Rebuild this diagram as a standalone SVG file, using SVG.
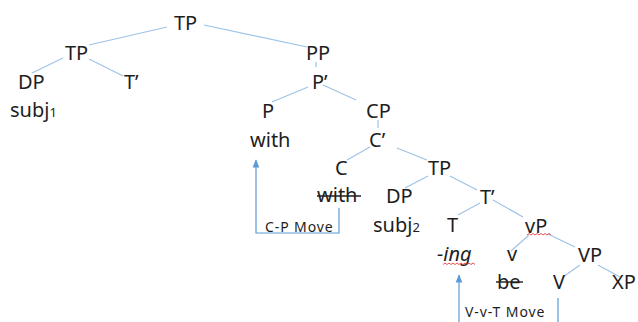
<svg xmlns="http://www.w3.org/2000/svg" width="638" height="322" viewBox="0 0 638 322">
  <defs>
    <style>
      .lbl { font-family: "Noto Sans", "Open Sans", sans-serif; font-size: 20px; fill: #1e1e1e; }
      .sub { font-size: 13px; }
      .mv { font-family: "Noto Sans", "Open Sans", sans-serif; font-size: 14px; fill: #1e1e1e; letter-spacing: 0.9px; }
      .edge { stroke: #9dc3e6; stroke-width: 1.2; fill: none; }
      .move { stroke: #5b9bd5; stroke-width: 1.2; fill: none; }
      .strike { stroke: #1e1e1e; stroke-width: 1.4; }
      .squig { stroke: #e04040; stroke-width: 0.9; fill: none; }
    </style>
    <marker id="arr" viewBox="0 0 10 10" refX="9" refY="5" markerWidth="7" markerHeight="7" orient="auto-start-reverse">
      <path d="M0,1 L10,5 L0,9 z" fill="#5b9bd5"/>
    </marker>
  </defs>

  <rect width="638" height="322" fill="#fff"/>

  <!-- tree branches -->
  <g id="connectors">
    <line class="edge" x1="167" y1="27" x2="89" y2="45"/>
    <line class="edge" x1="204" y1="25" x2="307" y2="47"/>
    <line class="edge" x1="63" y1="58" x2="32" y2="73"/>
    <line class="edge" x1="89" y1="59" x2="123" y2="76"/>
    <line class="edge" x1="316" y1="62" x2="316" y2="67"/>
    <line class="edge" x1="308" y1="87" x2="272" y2="102"/>
    <line class="edge" x1="323" y1="85" x2="356" y2="100"/>
    <line class="edge" x1="378" y1="120" x2="378" y2="128"/>
    <line class="edge" x1="370" y1="147" x2="347" y2="160"/>
    <line class="edge" x1="397" y1="148" x2="427" y2="160"/>
    <line class="edge" x1="428" y1="176" x2="405" y2="188"/>
    <line class="edge" x1="450" y1="176" x2="477" y2="190"/>
    <line class="edge" x1="480" y1="203" x2="458" y2="215"/>
    <line class="edge" x1="493" y1="200" x2="523" y2="217"/>
    <line class="edge" x1="529" y1="235" x2="511" y2="251"/>
    <line class="edge" x1="548" y1="234" x2="575" y2="247"/>
    <line class="edge" x1="580" y1="265" x2="563" y2="277"/>
    <line class="edge" x1="598" y1="265" x2="620" y2="277"/>
    <!-- movement paths -->
    <path class="move" d="M339,208 V233 H256 V160" marker-end="url(#arr)"/>
    <path class="move" d="M459,322 V275" marker-end="url(#arr)"/>
    <line class="move" x1="558" y1="298" x2="558" y2="322"/>
  </g>

  <g id="n-tp-root"><text class="lbl" x="174" y="30">TP</text></g>
  <g id="n-tp-left"><text class="lbl" x="65" y="60">TP</text></g>
  <g id="n-dp1"><text class="lbl" x="18" y="89">DP</text></g>
  <g id="n-tbar1"><text class="lbl" x="124" y="89">T’</text></g>
  <g id="n-subj1"><text class="lbl" x="10" y="117">subj<tspan class="sub">1</tspan></text></g>
  <g id="n-pp"><text class="lbl" x="306" y="60">PP</text></g>
  <g id="n-pbar"><text class="lbl" x="312" y="89">P’</text></g>
  <g id="n-p"><text class="lbl" x="262" y="118">P</text></g>
  <g id="n-with"><text class="lbl" x="250" y="147">with</text></g>
  <g id="n-cp"><text class="lbl" x="366" y="118">CP</text></g>
  <g id="n-cbar"><text class="lbl" x="369" y="147">C’</text></g>
  <g id="n-c"><text class="lbl" x="335" y="175">C</text></g>
  <g id="n-with-copy">
    <text class="lbl" x="317" y="202">with</text>
    <line class="strike" x1="317" y1="196" x2="361" y2="196"/>
  </g>
  <g id="n-tp-low"><text class="lbl" x="428" y="175">TP</text></g>
  <g id="n-dp2"><text class="lbl" x="386" y="203">DP</text></g>
  <g id="n-subj2"><text class="lbl" x="373" y="232">subj<tspan class="sub">2</tspan></text></g>
  <g id="n-tbar2"><text class="lbl" x="480" y="204">T’</text></g>
  <g id="n-t"><text class="lbl" x="447" y="232">T</text></g>
  <g id="n-ing">
    <text class="lbl" x="437" y="261" font-style="italic">-ing</text>
    <path class="squig" d="M443,264.5 l2,-1.5 l2,1.5 l2,-1.5 l2,1.5 l2,-1.5 l2,1.5 l2,-1.5 l2,1.5 l2,-1.5 l2,1.5 l2,-1.5 l2,1.5 l2,-1.5 l2,1.5 l2,-1.5 l2,1.5"/>
  </g>
  <g id="n-vp-small">
    <text class="lbl" x="525" y="233">vP</text>
    <path class="squig" d="M527,235 l2,-1.5 l2,1.5 l2,-1.5 l2,1.5 l2,-1.5 l2,1.5 l2,-1.5 l2,1.5 l2,-1.5 l2,1.5 l2,-1.5 l2,1.5"/>
  </g>
  <g id="n-v-small"><text class="lbl" x="507" y="261">v</text></g>
  <g id="n-vp"><text class="lbl" x="578" y="262">VP</text></g>
  <g id="n-be">
    <text class="lbl" x="497" y="289">be</text>
    <line class="strike" x1="496" y1="282" x2="523" y2="282"/>
  </g>
  <g id="n-v"><text class="lbl" x="553" y="289">V</text></g>
  <g id="n-xp"><text class="lbl" x="612" y="289">XP</text></g>

  <g id="lbl-cp-move"><text class="mv" x="265" y="232">C-P Move</text></g>
  <g id="lbl-vvt-move"><text class="mv" x="465" y="317">V-v-T Move</text></g>
</svg>
